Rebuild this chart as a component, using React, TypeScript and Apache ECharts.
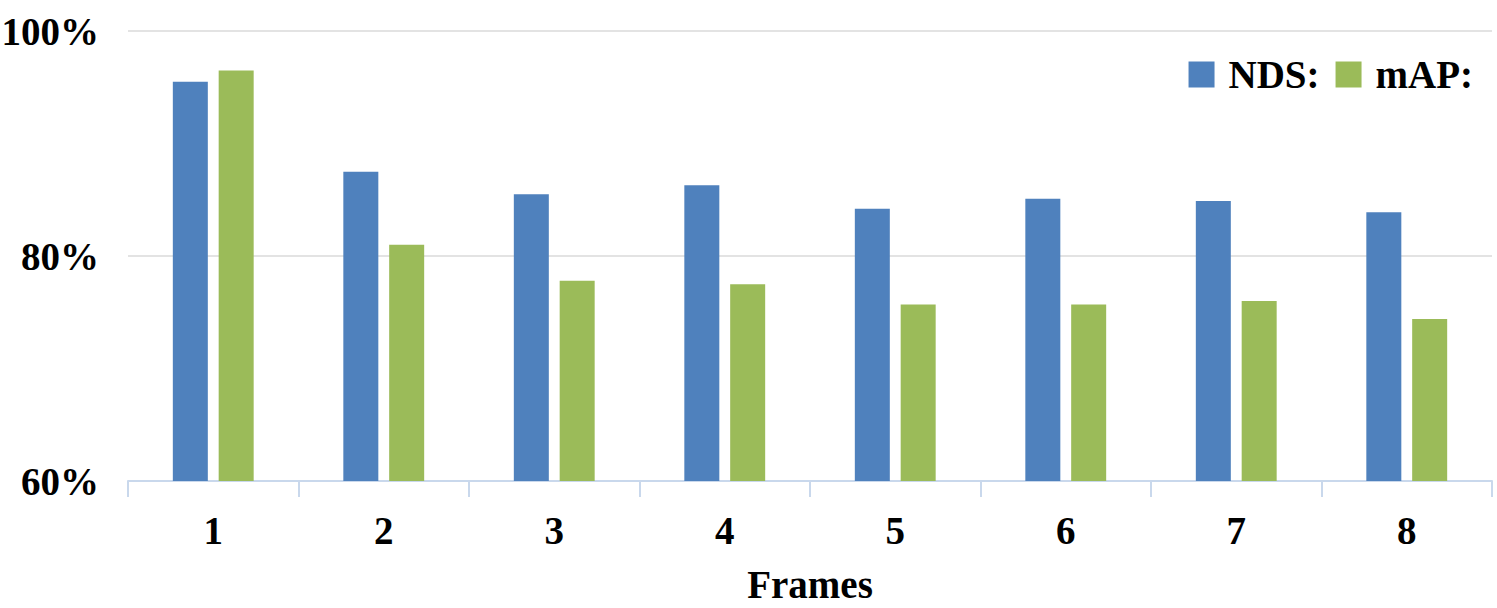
import React, { useEffect, useRef } from "react";
import * as echarts from "echarts";

const frames = ["1", "2", "3", "4", "5", "6", "7", "8"];
const ndsValues = [95.5, 87.5, 85.5, 86.3, 84.2, 85.1, 84.9, 83.9];
const mapValues = [96.5, 81.0, 77.8, 77.5, 75.7, 75.7, 76.0, 74.4];
const seriesNames = ["NDS:", "mAP:"];

const FONT = "'Liberation Serif', 'Times New Roman', serif";

export default function App() {
  const ref = useRef<HTMLDivElement>(null);
  useEffect(() => {
    if (!ref.current) return;
    const chart = echarts.init(ref.current, null, { renderer: "svg" });
    chart.setOption({
      animation: false,
      backgroundColor: "#ffffff",
      textStyle: { fontFamily: FONT },
      grid: {
        left: 128,
        right: 5,
        top: 31,
        bottom: 127,
        containLabel: false,
        outerBoundsMode: "none",
      },
      legend: {
        data: seriesNames,
        right: 19,
        top: 50,
        itemWidth: 26,
        itemHeight: 26,
        itemGap: 16,
        icon: "rect",
        textStyle: {
          fontFamily: FONT,
          fontWeight: "bold",
          fontSize: 39,
          color: "#000",
          padding: [0, 0, 0, 9],
        },
      },
      xAxis: {
        type: "category",
        data: frames,
        name: "Frames",
        nameLocation: "middle",
        nameGap: 84,
        nameTextStyle: { fontFamily: FONT, fontWeight: "bold", fontSize: 39, color: "#000" },
        axisLine: { lineStyle: { color: "#c9d8ec", width: 2 } },
        axisTick: { show: true, length: 16, lineStyle: { color: "#c9d8ec", width: 2 } },
        axisLabel: { fontFamily: FONT, fontWeight: "bold", fontSize: 39, color: "#000", margin: 30 },
      },
      yAxis: {
        type: "value",
        min: 60,
        max: 100,
        interval: 20,
        axisLine: { show: false },
        axisTick: { show: false },
        axisLabel: {
          formatter: "{value}%",
          fontFamily: FONT,
          fontWeight: "bold",
          fontSize: 39,
          color: "#000",
          margin: 29,
        },
        splitLine: { lineStyle: { color: "#e3e3e3", width: 2 } },
      },
      series: [
        {
          name: seriesNames[0],
          type: "bar",
          data: ndsValues,
          barWidth: 35,
          barGap: "31%",
          itemStyle: { color: "#4f81bd" },
        },
        {
          name: seriesNames[1],
          type: "bar",
          data: mapValues,
          barWidth: 35,
          barGap: "31%",
          itemStyle: { color: "#9bbb59" },
        },
      ],
    });
    return () => chart.dispose();
  }, []);
  return (
    <div
      ref={ref}
      style={{ position: "fixed", left: 0, top: 0, width: 1497, height: 608, background: "#fff" }}
    />
  );
}
